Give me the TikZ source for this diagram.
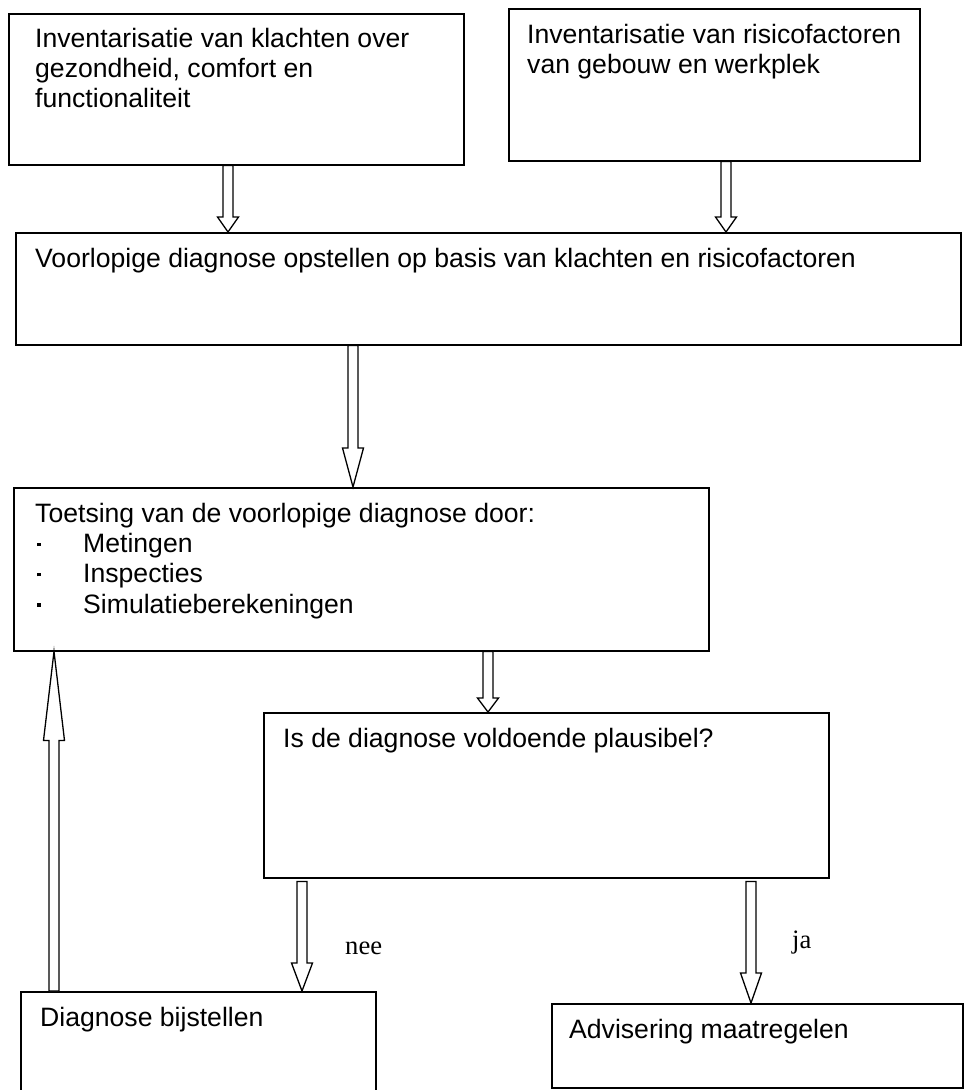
\documentclass[tikz,border=0pt]{standalone}
\usepackage{fontspec}
\setmainfont{Liberation Sans}
\newfontfamily\labfont{Liberation Serif}
\usepackage{xcolor}
\usepackage{tikz}
\usetikzlibrary{calc}
\definecolor{bg}{HTML}{FFFFFF}
\definecolor{ink}{HTML}{000000}
\tikzset{
  box/.style={draw=ink, line width=1.5pt, anchor=north west, inner sep=0pt},
  txt/.style={anchor=north west, inner sep=0pt, align=left, text=ink,
    font=\fontsize{26.6}{30.2}\selectfont},
  hollowarr/.style={draw=ink, line width=1.3pt, fill=bg, line join=miter},
  lab/.style={inner sep=0pt, text=ink, font=\labfont\fontsize{26.6}{30}\selectfont}
}
% hollow block arrow: #1 head length, #2 from, #3 to
\newcommand{\blockarr}[3]{%
  \draw[hollowarr] let \p1=(#2), \p2=(#3), \n1={sign(\y2-\y1)*#1} in
    ({\x1-5pt},\y1) -- ({\x1-5pt},{\y2-(\n1)}) -- ({\x1-10.5pt},{\y2-(\n1)})
    -- (\x1,\y2) -- ({\x1+10.5pt},{\y2-(\n1)}) -- ({\x1+5pt},{\y2-(\n1)})
    -- ({\x1+5pt},\y1) -- cycle;}
\newcommand{\sqbul}{\makebox[48pt][l]{\hspace{2pt}\rule[6.5pt]{3.5pt}{3.5pt}}}

\begin{document}
\begin{tikzpicture}[x=1pt, y=-1pt]
  \useasboundingbox[fill=bg] (0,0) rectangle (976,1090);

  % boxes
  \node[box, minimum width=455, minimum height=151] (inv1) at (8,13) {};
  \node[box, minimum width=411, minimum height=152] (inv2) at (508,8) {};
  \node[box, minimum width=945, minimum height=112] (voorl) at (15,232) {};
  \node[box, minimum width=695, minimum height=163] (toets) at (13,487) {};
  \node[box, minimum width=565, minimum height=165] (plaus) at (263,712) {};
  \node[box, minimum width=355, minimum height=110] (bijst) at (20,991) {};
  \node[box, minimum width=411, minimum height=84] (advis) at (551,1003) {};

  % texts
  \node[txt] (t1) at ([shift={(27,15)}]inv1.north west)
    {Inventarisatie van klachten over\\gezondheid, comfort en\\functionaliteit};
  \node[txt] (t2) at ([shift={(19,16)}]inv2.north west)
    {Inventarisatie van risicofactoren\\van gebouw en werkplek};
  \node[txt] (t3) at ([shift={(20,16)}]voorl.north west)
    {Voorlopige diagnose opstellen op basis van klachten en risicofactoren};
  \node[txt] (t4) at ([shift={(22,16)}]toets.north west)
    {Toetsing van de voorlopige diagnose door:\\
     \sqbul Metingen\\ \sqbul Inspecties\\ \sqbul Simulatieberekeningen};
  \node[txt] (t5) at ([shift={(20,16)}]plaus.north west)
    {Is de diagnose voldoende plausibel?};
  \node[txt] (t6) at ([shift={(20,16)}]bijst.north west) {Diagnose bijstellen};
  \node[txt] (t7) at ([shift={(18,16)}]advis.north west) {Advisering maatregelen};

  % arrows
  \coordinate (k1) at ([xshift=220pt]inv1.south west);
  \coordinate (k2) at ([xshift=218pt]inv2.south west);
  \coordinate (k3) at ([xshift=338pt]voorl.south west);
  \coordinate (k4) at ([xshift=475pt]toets.south west);
  \coordinate (k5) at ([shift={(39,3)}]plaus.south west);
  \coordinate (k6) at ([shift={(488,3)}]plaus.south west);
  \coordinate (k7) at ([xshift=34pt]bijst.north west);
  \blockarr{15}{k1}{voorl.north -| k1}
  \blockarr{15}{k2}{voorl.north -| k2}
  \blockarr{39}{k3}{toets.north -| k3}
  \blockarr{14}{k4}{plaus.north -| k4}
  \blockarr{28}{k5}{bijst.north -| k5}
  \blockarr{30}{k6}{advis.north -| k6}
  \blockarr{89}{k7}{toets.south -| k7}

  \node[lab, anchor=west] (nee) at (345,948) {nee};
  \node[lab, anchor=west] (ja) at (792,943) {ja};
\end{tikzpicture}
\end{document}
